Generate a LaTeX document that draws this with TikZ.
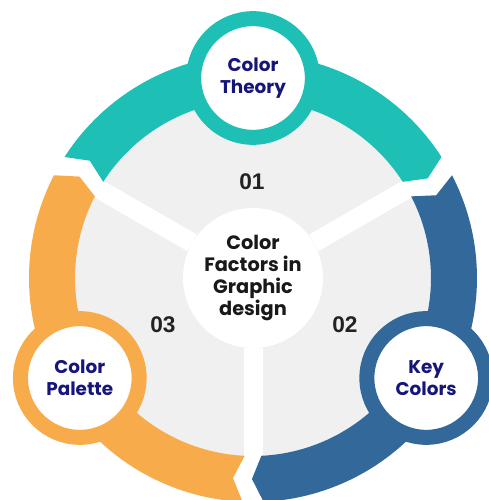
\documentclass[tikz,border=0pt]{standalone}
\usepackage{fontspec}
\setmainfont{Poppins}
\newfontfamily\numfont{Liberation Sans}
\definecolor{tealc}{HTML}{1EBFB5}
\definecolor{bluec}{HTML}{33689A}
\definecolor{orangec}{HTML}{F8AB4B}
\definecolor{graybg}{HTML}{F0F0F0}
\definecolor{navy}{HTML}{15157A}
\definecolor{numc}{HTML}{222222}
\tikzset{
  bigc/.style={circle, fill=white, inner sep=0pt, minimum size=105pt, align=center,
    font=\fontsize{14.5}{16.3}\selectfont\bfseries, text=black!90},
  smallc/.style={circle, fill=white, draw=#1, line width=11.25pt, inner sep=0pt,
    minimum size=89pt, align=center, font=\fontsize{13.8}{16.3}\selectfont\bfseries, text=navy},
  spoke/.style={white, line width=14.25pt},
  num/.style={font=\numfont\fontsize{17}{17}\selectfont\bfseries, text=numc}
}
\begin{document}
\begin{tikzpicture}[x=0.75pt,y=0.75pt]
\useasboundingbox (0,0) rectangle (489,500);
\clip (0,0) rectangle (489,500);
\coordinate (O) at (253,222);
\fill[graybg] (O) circle (179);
\node[bigc] (center) at (O) {Color\\Factors in\\Graphic\\design};
\coordinate (s1) at ([shift={(150:190)}]O);
\coordinate (s2) at ([shift={(30:190)}]O);
\coordinate (s3) at ([shift={(270:190)}]O);
\draw[spoke] (center) -- (s1);
\draw[spoke] (center) -- (s2);
\draw[spoke] (center) -- (s3);
\def\g{2.7}\def\d{3}
\begin{scope}[shift={(253,222)}]
% teal: 30..150
\fill[tealc] (30+\g:224) arc[start angle=30+\g, end angle=150-\g, radius=224]
  -- (150-\g-\d:201) -- (150-\g:178) arc[start angle=150-\g, end angle=30+\g, radius=178]
  -- (30+\g-\d:201) -- cycle;
% blue: -90..30
\fill[bluec] (-90+\g:224) arc[start angle=-90+\g, end angle=30-\g, radius=224]
  -- (30-\g-\d:201) -- (30-\g:178) arc[start angle=30-\g, end angle=-90+\g, radius=178]
  -- (-90+\g-\d:201) -- cycle;
% orange: 150..270
\fill[orangec] (150+\g:224) arc[start angle=150+\g, end angle=270-\g, radius=224]
  -- (270-\g-\d:201) -- (270-\g:178) arc[start angle=270-\g, end angle=150+\g, radius=178]
  -- (150+\g-\d:201) -- cycle;
\end{scope}
\node[smallc=tealc] (ct) at ([shift={(90:200)}]O) {Color\\Theory};
\node[smallc=bluec] (kc) at ([shift={(-30:200)}]O) {Key\\Colors};
\node[smallc=orangec] (cp) at ([shift={(210:200)}]O) {Color\\Palette};
\node[num] (n1) at (252,318) {01};
\node[num] (n2) at (345,175) {02};
\node[num] (n3) at (163,175) {03};
\end{tikzpicture}
\end{document}
